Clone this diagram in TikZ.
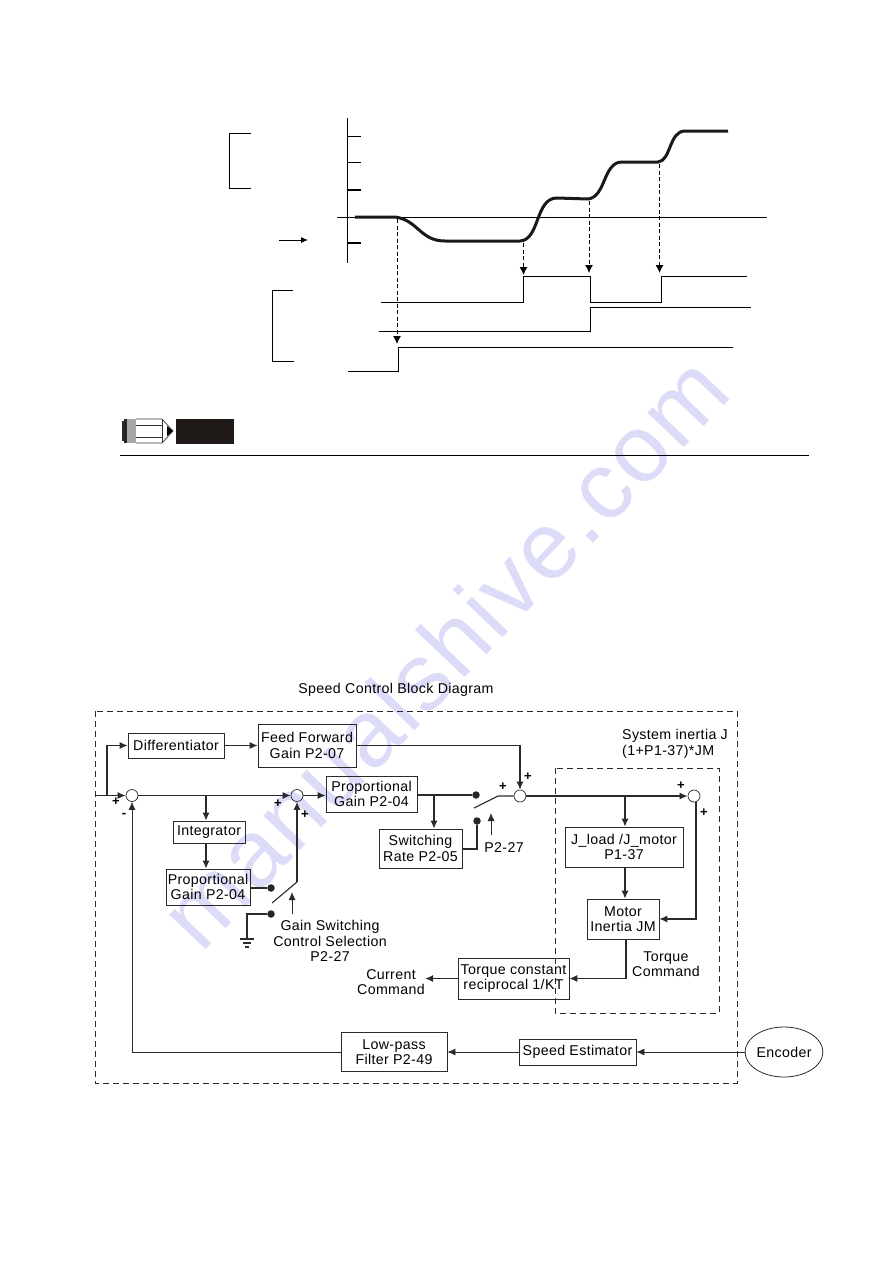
\documentclass[tikz,border=0pt]{standalone}
\usepackage{fontspec}
\setmainfont{Liberation Sans}[LetterSpace=2.5]
\usetikzlibrary{arrows.meta,shapes.geometric}
\definecolor{markblue}{HTML}{DCDCF9}
\definecolor{inkgrey}{HTML}{2A2A2A}
\definecolor{tagblack}{HTML}{1F1A17}
\newcommand{\labelfont}{\fontsize{14.2}{15.6}\selectfont}
\tikzset{
  blockbox/.style 2 args={draw=inkgrey,line width=0.8pt,align=center,inner sep=0pt,
    font=\labelfont,minimum width=#1pt,minimum height=#2pt},
  sumnode/.style={draw=inkgrey,circle,inner sep=0pt,minimum size=12pt,line width=0.7pt},
  dotnode/.style={fill=black!85,circle,inner sep=0pt,minimum size=7.5pt},
  labeltext/.style={align=center,inner sep=0pt,font=\labelfont},
  plusmark/.style={inner sep=0pt,font=\fontsize{13}{13}\bfseries\selectfont},
  sig/.style={draw=inkgrey,line width=1.1pt,-{Latex[length=8pt,width=7pt]}},
  wire/.style={draw=inkgrey,line width=1.1pt},
  frameline/.style={draw=inkgrey,line width=0.9pt,dashed,dash pattern=on 6pt off 4pt},
  plotline/.style={draw=black,line width=1pt},
  pulseline/.style={draw=black,line width=1pt,dashed,dash pattern=on 4pt off 2.5pt,
    -{Latex[length=8pt,width=8pt]}},
  speedcurve/.style={draw=black!90,line width=3pt}
}
\begin{document}
\begin{tikzpicture}[x=1pt,y=-1pt]
\useasboundingbox (0,0) rectangle (893,1263);
\node[rotate=46.4,anchor=base,text=markblue,inner sep=0pt,font=\fontsize{95}{95}\selectfont] (mark) at (468,675) {manualshive.com};

\draw[plotline] (347,118) -- (347,263);
\draw[plotline] (347,136) -- (361,136);
\draw[plotline] (347,162) -- (361,162);
\draw[plotline,line width=2pt] (347,190) -- (361,190);
\draw[plotline,line width=2pt] (347,243) -- (361,243);
\draw[plotline] (337,217) -- (767,217);
\draw[speedcurve] (355,217) -- (395,217) .. controls (418,220) and (420,241) .. (445,241) -- (520,241)
  .. controls (540,240) and (535,198) .. (557,198) -- (588,199)
  .. controls (606,197) and (603,162) .. (622,162) -- (658,162)
  .. controls (671,161) and (669,131) .. (685,131) -- (728,131);
\draw[pulseline] (397,219) -- (397,344);
\draw[pulseline] (523.5,243) -- (523.5,275);
\draw[pulseline] (589,201) -- (589,273);
\draw[pulseline] (659.5,164) -- (659.5,273);
\draw[plotline] (381,302) -- (523.5,302) -- (523.5,276) -- (590,276) -- (590,302) -- (661,302) -- (661,276) -- (747,276);
\draw[plotline] (379,331) -- (590,331) -- (590,307) -- (751,307);
\draw[plotline] (348,371) -- (398,371) -- (398,347) -- (733,347);
\draw[plotline] (251,133) -- (229,133) -- (229,188) -- (251,188);
\draw[plotline] (293,290) -- (272,290) -- (272,361) -- (294,361);
\draw[plotline,-{Latex[length=7pt,width=6pt]}] (279,240) -- (308,240);

\fill[black!85] (124,419) rectangle (128,443);
\fill[black!85] (122,421) rectangle (124,441);
\fill[black!35] (127,419) rectangle (136,443);
\draw[black!80,line width=0.7pt] (136,419) -- (162,419) -- (173,431) -- (162,443) -- (136,443);
\draw[black!80,line width=0.7pt] (136,425) -- (162,425) (136,437) -- (162,437) (162,419) -- (162,443);
\fill[black] (167,426) -- (173,431) -- (167,436) -- cycle;
\fill[tagblack] (176,419) rectangle (234,444);
\draw[plotline] (120,455) -- (809,455);

\node[labeltext] (title) at (396,690) {Speed Control Block Diagram};
\draw[frameline] (95,711) rectangle (737,1083);
\draw[frameline,line width=0.7pt] (555,768) rectangle (719,1013);

\node[blockbox={96}{25}] (diff) at (176,745.5) {Differentiator};
\node[blockbox={98}{43}] (feed) at (307,745.5) {Feed Forward\\Gain P2-07};
\node[blockbox={91}{36}] (propa) at (371.5,794) {Proportional\\Gain P2-04};
\node[blockbox={72}{22}] (integ) at (209,832) {Integrator};
\node[blockbox={84}{36}] (propb) at (208,887) {Proportional\\Gain P2-04};
\node[blockbox={83}{39}] (rate) at (420.5,848.5) {Switching\\Rate P2-05};
\node[blockbox={118}{40}] (load) at (624,847) {J\_load /J\_motor\\P1-37};
\node[blockbox={72}{40}] (motor) at (623,919) {Motor\\Inertia JM};
\node[blockbox={111}{41}] (torque) at (513.5,978.5) {Torque constant\\reciprocal 1/KT};
\node[blockbox={117}{26}] (speed) at (577.5,1052) {Speed Estimator};
\node[blockbox={106}{39}] (lowpass) at (394,1052) {Low-pass\\Filter P2-49};
\node[draw=inkgrey,ellipse,line width=0.8pt,inner sep=0pt,minimum width=66pt,minimum height=50pt,font=\labelfont] (encoder) at (784,1052) {Encoder};

\node[sumnode] (suma) at (132,795.5) {};
\node[sumnode] (sumb) at (297,795.5) {};
\node[sumnode] (sumc) at (520,796) {};
\node[sumnode] (sumd) at (694,796) {};
\node[dotnode] (dota) at (271,888) {};
\node[dotnode] (dotb) at (271,914) {};
\node[dotnode] (dotc) at (476,795) {};
\node[dotnode] (dotd) at (477,821) {};

\node[plusmark] (pa) at (116,802) {+};
\node[plusmark] (pb) at (124,815) {-};
\node[plusmark] (pc) at (278,804) {+};
\node[plusmark] (pd) at (305,815) {+};
\node[plusmark] (pe) at (503,787) {+};
\node[plusmark] (pf) at (528,777) {+};
\node[plusmark] (pg) at (681,786) {+};
\node[plusmark] (ph) at (704,813) {+};

\node[labeltext] (gaintext) at (330,941) {Gain Switching\\Control Selection\\P2-27};
\node[labeltext] (swtext) at (504,848) {P2-27};
\node[labeltext] (curtext) at (391,982) {Current\\Command};
\node[labeltext] (cmdtext) at (666,964) {Torque\\Command};
\node[labeltext,align=left,anchor=west] (inertext) at (622,744) {System inertia J\\(1+P1-37)*JM};

\coordinate (inport) at (95,795.5);
\coordinate (inbranch) at (107,795.5);
\coordinate (intbranch) at (206,795.5);
\coordinate (ratebranch) at (434,795);
\coordinate (loadbranch) at (625,796);
\coordinate (swa) at (272,903);
\coordinate (swb) at (297,882);
\coordinate (swc) at (474,808);
\coordinate (swd) at (498,796);
\coordinate (gnd) at (247,939);
\coordinate (gaintail) at (292,914);
\coordinate (gainhead) at (292,892);
\coordinate (swtail) at (491,835);
\coordinate (swhead) at (491,813);

\draw[sig] (inport) -- (suma);
\draw[sig] (inbranch) |- (diff);
\draw[sig] (diff) -- (feed);
\draw[sig] (feed) -| (sumc);
\draw[sig] (suma) -- (sumb);
\draw[sig] (intbranch) -- (intbranch |- integ.north);
\draw[sig] (intbranch |- integ.south) -- (intbranch |- propb.north);
\draw[sig] (sumb) -- (propa.west |- sumb);
\draw[wire] (propb.east |- dota) -- (dota);
\draw[wire] (dotb) -| (gnd);
\draw[wire] (240,939) -- (254,939) (243,943) -- (251,943) (245,947) -- (249,947);
\draw[wire] (swa) -- (swb);
\draw[sig] (swb) -- (sumb);
\draw[sig,line width=0.9pt] (gaintail) -- (gainhead);
\draw[wire] (propa.east |- dotc) -- (dotc);
\draw[sig] (ratebranch) -- (ratebranch |- rate.north);
\draw[wire] (rate.east |- 0,849) -| (dotd);
\draw[wire] (swc) -- (swd) -- (sumc);
\draw[sig,line width=0.9pt] (swtail) -- (swhead);
\draw[sig,line width=1.4pt] (sumc) -- (sumd);
\draw[sig] (loadbranch) -- (loadbranch |- load.north);
\draw[sig] (loadbranch |- load.south) -- (loadbranch |- motor.north);
\draw[sig] (696,802) |- (motor.east);
\draw[sig] (626,939) |- (torque.east);
\draw[sig,line width=1.6pt] (torque.west) -- (425,978.5);
\draw[sig,line width=0.8pt] (encoder) -- (speed);
\draw[sig,line width=0.8pt] (speed) -- (lowpass);
\draw[sig,line width=0.8pt] (lowpass) -| (suma);
\end{tikzpicture}
\end{document}
